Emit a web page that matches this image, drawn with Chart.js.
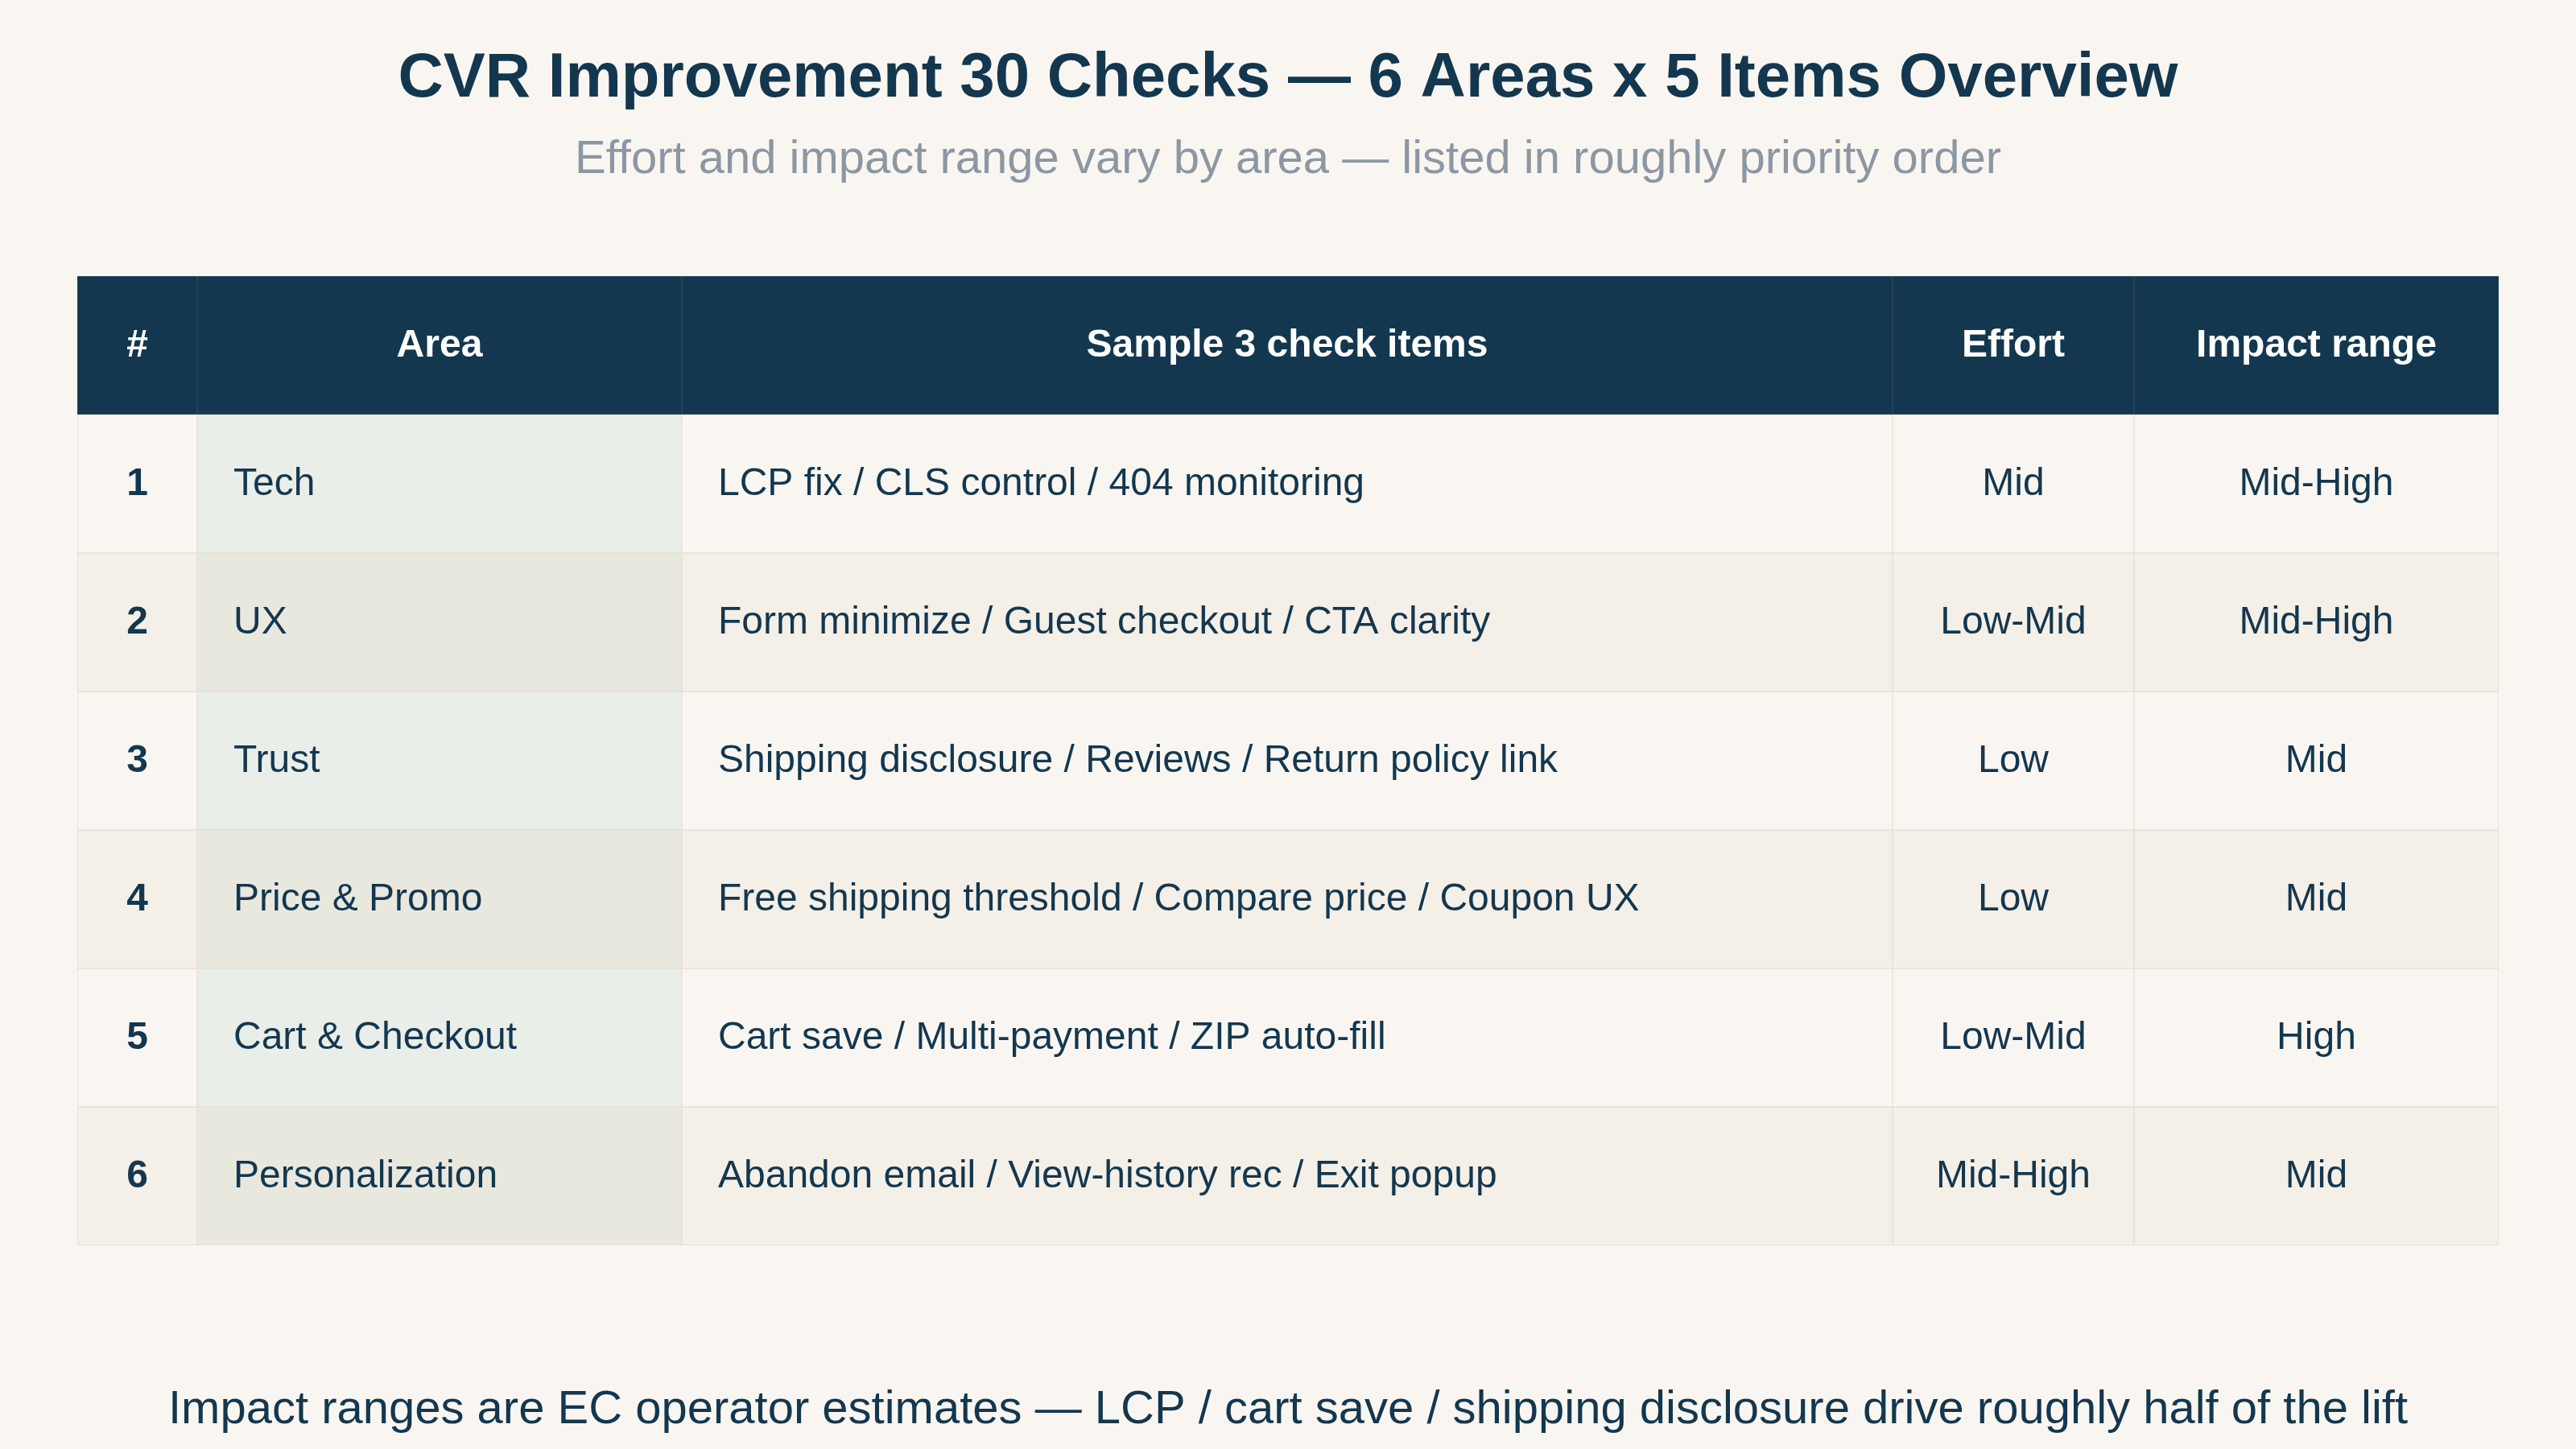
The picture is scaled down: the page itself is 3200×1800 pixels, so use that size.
<!DOCTYPE html>
<html><head><meta charset="utf-8">
<script src="https://cdn.jsdelivr.net/npm/chart.js@4/dist/chart.umd.min.js"></script>
<style>html,body{margin:0;padding:0;background:#f9f6f1;}#wrap{width:3200px;height:1800px;}</style>
</head><body><div id="wrap"><canvas id="c"></canvas></div>
<script>
const title = "CVR Improvement 30 Checks \u2014 6 Areas x 5 Items Overview";
const subtitle = "Effort and impact range vary by area \u2014 listed in roughly priority order";
const footnote = "Impact ranges are EC operator estimates \u2014 LCP / cart save / shipping disclosure drive roughly half of the lift";
const headers = ["#", "Area", "Sample 3 check items", "Effort", "Impact range"];
const colEdges = [0, 73, 368, 1105, 1252, 1474];
const nums = ["1","2","3","4","5","6"];
const areas = ["Tech","UX","Trust","Price & Promo","Cart & Checkout","Personalization"];
const items = ["LCP fix / CLS control / 404 monitoring","Form minimize / Guest checkout / CTA clarity","Shipping disclosure / Reviews / Return policy link","Free shipping threshold / Compare price / Coupon UX","Cart save / Multi-payment / ZIP auto-fill","Abandon email / View-history rec / Exit popup"];
const effort = ["Mid","Low-Mid","Low","Low","Low-Mid","Mid-High"];
const impact = ["Mid-High","Mid-High","Mid","Mid","High","Mid"];

const rows = ["H"].concat(nums);
const cols = [nums, areas, items, effort, impact];
const NAVY = "#13374f";
function cellBg(col, r) {
  if (r === 0) return NAVY;
  const even = (r % 2 === 0);
  if (col === 1) return even ? "#e9e8df" : "#e9eee9";
  return even ? "#f4efe7" : "#f9f6f1";
}
const datasets = headers.map((h, ci) => ({
  label: h,
  data: rows.map(() => [colEdges[ci], colEdges[ci + 1]]),
  backgroundColor: rows.map((_, r) => cellBg(ci, r)),
  borderColor: rows.map((_, r) => r === 0 ? "#2c4b61" : "#e6e0d6"),
  borderWidth: 1,
  borderSkipped: false,
  barPercentage: 1,
  categoryPercentage: 1,
  grouped: false
}));

const textPlugin = {
  id: "txt",
  afterDatasetsDraw(chart) {
    const ctx = chart.ctx, x = chart.scales.x, y = chart.scales.y;
    ctx.save();
    ctx.textBaseline = "middle";
    const F = '"Liberation Sans", Arial, sans-serif';
    rows.forEach((rk, r) => {
      const py = y.getPixelForValue(r);
      headers.forEach((h, ci) => {
        const x0 = x.getPixelForValue(colEdges[ci]), x1 = x.getPixelForValue(colEdges[ci + 1]);
        let txt, bold = false, color = NAVY, align = "center";
        if (r === 0) { txt = h; bold = true; color = "#ffffff"; }
        else {
          txt = cols[ci][r - 1];
          if (ci === 0) bold = true;
          if (ci === 1 || ci === 2) align = "left";
        }
        ctx.font = (bold ? "bold " : "") + "48px " + F;
        ctx.fillStyle = color;
        ctx.textAlign = align;
        ctx.fillText(txt, align === "left" ? x0 + 45 : (x0 + x1) / 2, py + 1);
      });
    });
    ctx.textAlign = "center";
    ctx.fillStyle = NAVY;
    ctx.font = "bold 78px " + F;
    ctx.fillText(title, 1600, 98);
    ctx.fillStyle = "#8c97a3";
    ctx.font = "58px " + F;
    ctx.fillText(subtitle, 1600, 199);
    ctx.fillStyle = NAVY;
    ctx.font = "58px " + F;
    ctx.fillText(footnote, 1600, 1752);
    ctx.restore();
  }
};

new Chart(document.getElementById("c"), {
  type: "bar",
  data: { labels: rows, datasets },
  options: {
    indexAxis: "y",
    responsive: true, maintainAspectRatio: false, animation: false,
    layout: { padding: { left: 96, right: 96, top: 343, bottom: 253 } },
    scales: {
      x: { type: "linear", min: 0, max: colEdges[colEdges.length - 1], display: false },
      y: { type: "category", display: false, offset: true }
    },
    plugins: { legend: { display: false }, tooltip: { enabled: false } }
  },
  plugins: [textPlugin]
});
</script></body></html>
